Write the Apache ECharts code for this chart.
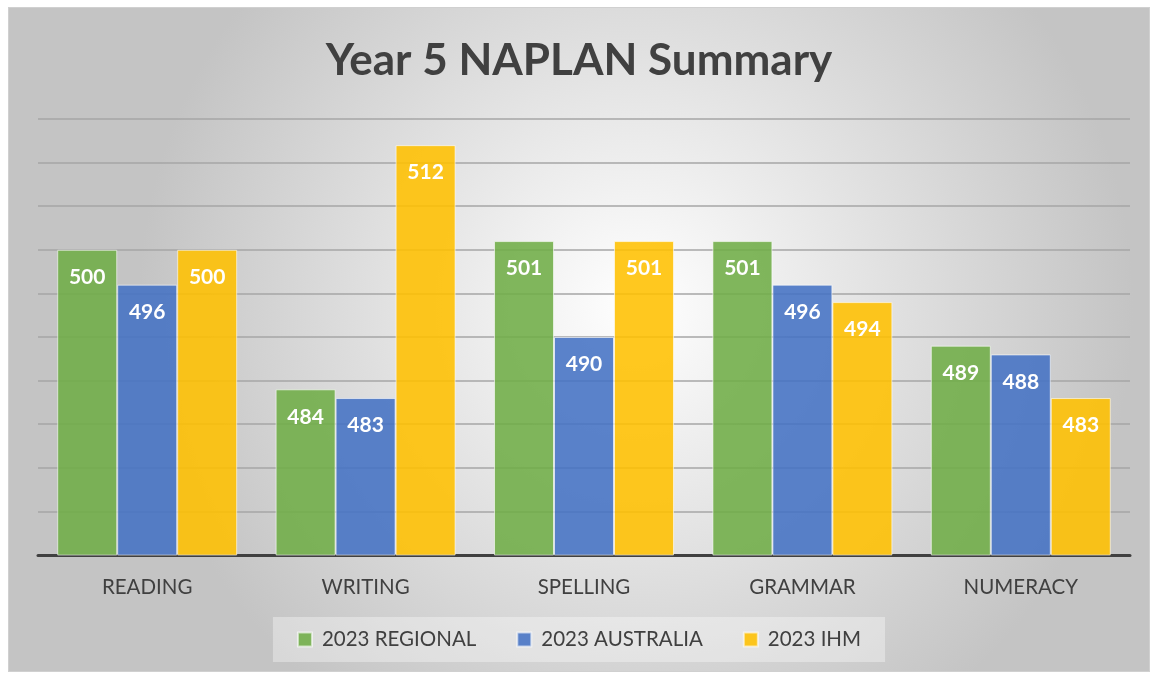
<!DOCTYPE html>
<html>
<head>
<meta charset="utf-8">
<script src="https://cdn.jsdelivr.net/npm/echarts@6/dist/echarts.min.js"></script>
<style>
  html, body { margin: 0; padding: 0; background: #fff; }
  #chart { position: absolute; left: 8px; top: 7px; width: 1142px; height: 665px; border: 1px solid #d0d0d0; box-sizing: border-box; }
</style>
</head>
<body>
<div id="chart"></div>
<script>
const categories = ['READING', 'WRITING', 'SPELLING', 'GRAMMAR', 'NUMERACY']
const regional = [500, 484, 501, 501, 489]
const australia = [496, 483, 490, 496, 488]
const ihm = [500, 512, 501, 494, 483]
const seriesNames = ['2023 REGIONAL', '2023 AUSTRALIA', '2023 IHM']

const colors = ['rgba(112,173,71,0.88)', 'rgba(68,114,196,0.88)', 'rgba(255,192,0,0.88)']
const legendColors = ['#70ad47', '#4472c4', '#ffc000']
const font = 'Lato, "Open Sans", sans-serif'

const chart = echarts.init(document.getElementById('chart'))

function makeSeries(name, data, i) {
  return {
    name,
    type: 'bar',
    data,
    barGap: '0%',
    barCategoryGap: '17.6%',
    itemStyle: { color: colors[i], borderColor: 'rgba(255,255,255,0.6)', borderWidth: 1 },
    label: {
      show: true,
      position: 'insideTop',
      distance: 17,
      color: '#fff',
      fontSize: 21,
      fontWeight: 'bold',
      fontFamily: font
    }
  }
}

chart.setOption({
  backgroundColor: new echarts.graphic.RadialGradient(0.55, 0.45, 0.75, [
    { offset: 0, color: '#ffffff' },
    { offset: 1, color: '#c4c4c4' }
  ]),
  animation: false,
  color: legendColors,
  title: {
    text: 'Year 5 NAPLAN Summary',
    left: 'center',
    top: 26,
    textStyle: { color: '#404040', fontSize: 44, fontWeight: 'bold', fontFamily: font }
  },
  legend: {
    data: seriesNames,
    bottom: 9,
    left: 'center',
    itemWidth: 14,
    itemHeight: 14,
    itemGap: 40,
    padding: [12, 24],
    backgroundColor: 'rgba(255,255,255,0.35)',
    textStyle: { color: '#404040', fontSize: 20.5, fontFamily: font, padding: [0, 0, 0, 5] },
    icon: 'rect'
  },
  grid: { left: 29, right: 19, top: 111, bottom: 116 },
  xAxis: {
    type: 'category',
    data: categories,
    axisLine: { lineStyle: { color: '#404040', width: 3 } },
    axisTick: { show: false },
    axisLabel: { color: '#404040', fontSize: 20.5, fontFamily: font, margin: 22 }
  },
  yAxis: {
    type: 'value',
    min: 465,
    max: 515,
    interval: 5,
    axisLabel: { show: false },
    axisLine: { show: false },
    axisTick: { show: false },
    splitLine: { lineStyle: { color: '#a6a6a6', width: 1.5 } }
  },
  series: [
    makeSeries(seriesNames[0], regional, 0),
    makeSeries(seriesNames[1], australia, 1),
    makeSeries(seriesNames[2], ihm, 2)
  ]
})
</script>
</body>
</html>
